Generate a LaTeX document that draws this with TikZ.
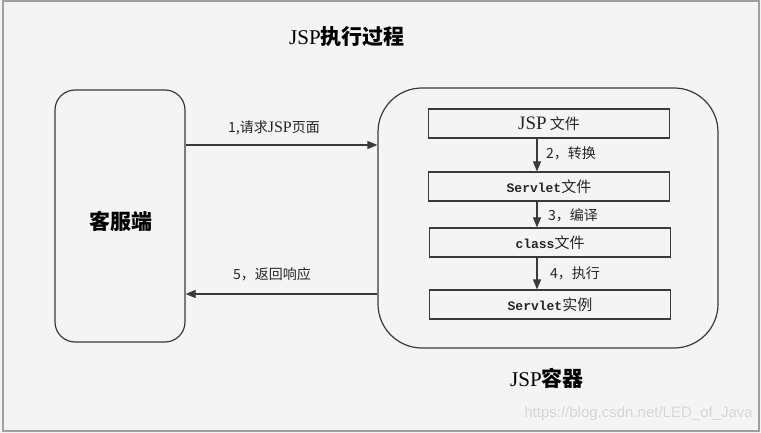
\documentclass[tikz,border=0pt]{standalone}
\usepackage{fontspec}
\setmainfont{Liberation Serif}
\newfontfamily\cjk{Noto Sans CJK SC}
\newfontfamily\mono{Liberation Mono}
\newfontfamily\wmfont{Liberation Sans}
\usetikzlibrary{arrows.meta}
\definecolor{bg}{HTML}{F4F4F4}
\definecolor{ln}{HTML}{3A3A3A}
\definecolor{frame}{HTML}{A0A0A0}
\definecolor{wm}{HTML}{D6D6D6}
\newcommand{\fsz}[1]{\fontsize{#1}{#1}\selectfont}
\tikzset{
  box/.style={draw=ln, line width=1.2pt, inner sep=0pt},
  ibox/.style={box, minimum width=241pt, minimum height=29pt, text=black!85},
  arr/.style={draw=ln, line width=1.2pt, -{Triangle[length=10pt,width=8pt]}},
  lbl/.style={inner sep=0pt, text=black!85},
}
\begin{document}
\begin{tikzpicture}[x=1pt,y=-1pt]
\useasboundingbox (0,0) rectangle (761,433);
\fill[bg] (0,0) rectangle (761,433);
\draw[frame, line width=2pt] (3,1) rectangle (759,431);

% title
\node[lbl, text=black] (title) at (347,37) {\fsz{21}JSP{\cjk\bfseries 执行过程}};

% client
\node[box, rounded corners=20pt, minimum width=130pt, minimum height=252pt] (client) at (120,216) {};
\node[lbl, text=black] (clientlbl) at (121,221) {\cjk\bfseries\fsz{21}客服端};

% container
\node[box, rounded corners=44pt, minimum width=340pt, minimum height=260pt] (cont) at (548,218) {};
\node[lbl, text=black] (contlbl) at (547,378) {\fsz{21}JSP{\cjk\bfseries 容器}};

% inner boxes
\node[ibox] (jsp) at (549,123.5) {\fsz{19}JSP\,{\cjk\fsz{15}文件}};
\node[ibox] (srv) at (549,186.5) {\mono\bfseries\fsz{13}Servlet{\cjk\mdseries\fsz{15}文件}};
\node[ibox] (cls) at (550,242.5) {\mono\bfseries\fsz{13}class{\cjk\mdseries\fsz{15}文件}};
\node[ibox] (inst) at (550,304.5) {\mono\bfseries\fsz{13}Servlet{\cjk\mdseries\fsz{15}实例}};

% inner arrows
\draw[arr] (jsp.south -| 537,0) -- (srv.north -| 537,0);
\draw[arr] (srv.south -| 537,0) -- (cls.north -| 537,0);
\draw[arr] (cls.south -| 537,0) -- (inst.north -| 537,0);
\node[lbl, anchor=west] (l2) at (546,153) {\cjk\fsz{14}2，转换};
\node[lbl, anchor=west] (l3) at (548,215) {\cjk\fsz{14}3，编译};
\node[lbl, anchor=west] (l4) at (550,273) {\cjk\fsz{14}4，执行};

% request / response
\coordinate (y1) at (0,145);
\coordinate (y5) at (0,294);
\draw[arr] (client.east |- y1) -- (cont.west |- y1);
\draw[arr] (cont.west |- y5) -- (client.east |- y5);
\node[lbl] (l1) at (274,128) {{\cjk\fsz{14}1,请求}{\fsz{16}JSP}{\cjk\fsz{14}页面}};
\node[lbl] (l5) at (272,274) {\cjk\fsz{14}5，返回响应};

% watermark
\node[lbl, text=wm, anchor=east] (wmk) at (753,414) {\wmfont\fsz{15}https://blog.csdn.net/LED\_of\_Java};
\end{tikzpicture}
\end{document}
